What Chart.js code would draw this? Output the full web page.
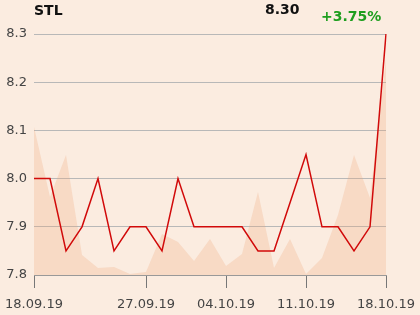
<!DOCTYPE html>
<html>
<head>
	<title>STL</title>
	<script src="https://cdn.jsdelivr.net/npm/chart.js"></script>
	<style>
		body { margin: 0; background: #fbece0; font-family: "DejaVu Sans", sans-serif; }
		#wrap { position: relative; width: 420px; height: 315px; }
		.hd { position: absolute; font-size: 14px; line-height: 14px; font-weight: bold; white-space: nowrap; }
		#name { left: 34px; top: 3px; color: #111; }
		#last { left: 265px; top: 2px; color: #111; }
		#chg { left: 321px; top: 9px; color: #1e9e1e; }
	</style>
</head>
<body>
<div id="wrap">
	<canvas id="myChart" width="420" height="315"></canvas>
	<div class="hd" id="name">STL</div>
	<div class="hd" id="last">8.30</div>
	<div class="hd" id="chg">+3.75%</div>
</div>
<script>
var dates = ['18.09.19','19.09.19','20.09.19','23.09.19','24.09.19','25.09.19','26.09.19','27.09.19',
	'30.09.19','01.10.19','02.10.19','03.10.19','04.10.19','07.10.19','08.10.19','09.10.19','10.10.19',
	'11.10.19','14.10.19','15.10.19','16.10.19','17.10.19','18.10.19'];
var prices = [8.0, 8.0, 7.85, 7.9, 8.0, 7.85, 7.9, 7.9, 7.85, 8.0, 7.9, 7.9, 7.9, 7.9, 7.85, 7.85, 7.95, 8.05, 7.9, 7.9, 7.85, 7.9, 8.3];
var volumes = [148, 78, 120, 20, 7, 8, 1, 3, 41, 33, 14, 36, 9, 21, 83, 7, 36, 1, 17, 60, 120, 77, 216];
var shownTicks = [0, 7, 12, 17, 22];
var yTicks = [7.8, 7.9, 8.0, 8.1, 8.2, 8.3];

var config = {
	type: 'line',
	data: {
		labels: dates,
		datasets: [{
			label: 'Price',
			data: prices,
			borderColor: '#d10a0a',
			borderWidth: 1.5,
			pointRadius: 0,
			tension: 0,
			fill: false,
			yAxisID: 'y',
			order: 1
		}, {
			label: 'Volume',
			data: volumes,
			borderWidth: 0,
			pointRadius: 0,
			tension: 0,
			fill: 'origin',
			backgroundColor: 'rgba(239,164,116,0.25)',
			yAxisID: 'y1',
			order: 2
		}]
	},
	options: {
		responsive: false,
		animation: false,
		layout: { padding: { top: 34, right: 34, left: 0, bottom: 0 } },
		plugins: { legend: { display: false }, tooltip: { enabled: false } },
		scales: {
			x: {
				offset: false,
				grid: { drawOnChartArea: false, drawTicks: true, tickLength: 13, color: '#777' },
				border: { color: '#999' },
				ticks: {
					autoSkip: false, maxRotation: 0, padding: 9,
					color: '#444', font: { family: 'DejaVu Sans', size: 13 },
					callback: function(v, i) { return dates[v]; }
				},
				afterBuildTicks: function(scale) {
					scale.ticks = scale.ticks.filter(function(t) { return shownTicks.indexOf(t.value) >= 0; });
				},
				afterFit: function(scale) {
					scale.height = 40;
					scale.paddingLeft = 0;
					scale.paddingRight = 0;
				}
			},
			y: {
				min: 7.8, max: 8.3,
				grid: { drawTicks: false, color: '#b8b8b8' },
				border: { display: false },
				ticks: {
					padding: 7, color: '#444', font: { family: 'DejaVu Sans', size: 13 },
					callback: function(v) { return v.toFixed(1); }
				},
				afterBuildTicks: function(scale) {
					scale.ticks = yTicks.map(function(v) { return { value: v }; });
				},
				afterFit: function(scale) { scale.width = 34; }
			},
			y1: {
				display: false,
				min: 0, max: 241
			}
		}
	}
};
new Chart(document.getElementById('myChart'), config);
</script>
</body>
</html>
